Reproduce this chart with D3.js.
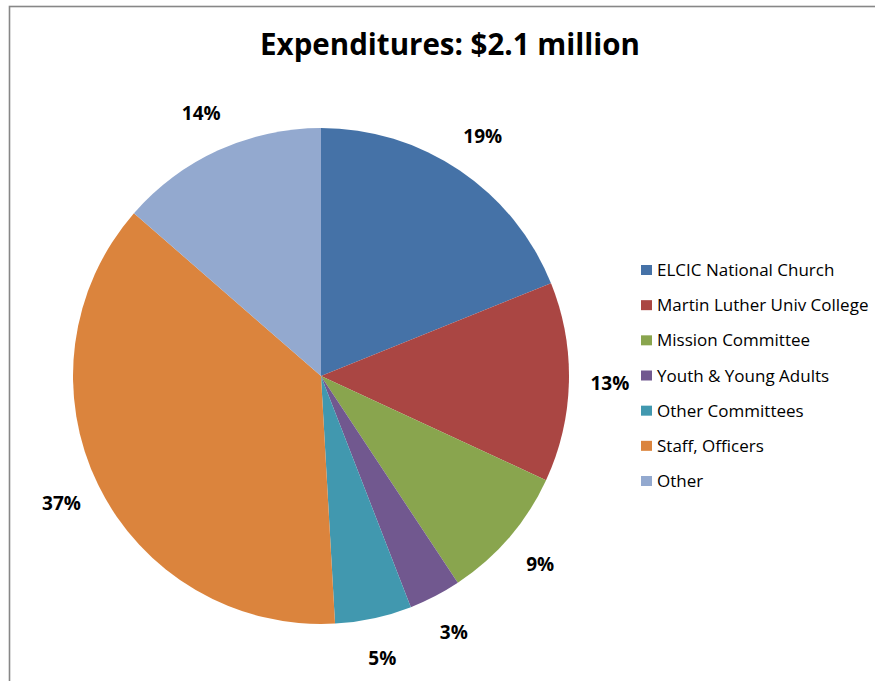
<!DOCTYPE html>
<html>
<head>
<meta charset="utf-8">
<script src="https://cdn.jsdelivr.net/npm/d3@7"></script>
<style>
  body { margin: 0; background: #fff; }
  svg { display: block; }
</style>
</head>
<body>
<div id="chart"></div>
<script>
const WIDTH = 875;
const HEIGHT = 681;

const TITLE = "Expenditures: $2.1 million";

// categories and shares (percent)
const categories = [
    "ELCIC National Church",
    "Martin Luther Univ College",
    "Mission Committee",
    "Youth & Young Adults",
    "Other Committees",
    "Staff, Officers",
    "Other"
];
const shares = [18.9, 13.0, 8.8, 3.4, 5.0, 37.3, 13.6];
const colors = ["#4572A7", "#AA4643", "#89A54E", "#71588F", "#4198AF", "#DB843D", "#93A9CF"];

const CX = 321, CY = 376, RADIUS = 248;
const LABEL_RADIUS = 289;

var svg = d3.select("#chart")
    .append("svg")
    .attr("width", WIDTH)
    .attr("height", HEIGHT);

// chart area border (runs off the right and bottom edges)
svg.append("rect")
    .attr("x", 9.5)
    .attr("y", 6.5)
    .attr("width", WIDTH + 20)
    .attr("height", HEIGHT + 20)
    .attr("fill", "none")
    .attr("stroke", "#878787")
    .attr("stroke-width", 1.6);

svg.append("text")
    .attr("x", 450)
    .attr("y", 55)
    .attr("text-anchor", "middle")
    .attr("font-family", "'Open Sans', sans-serif")
    .attr("font-weight", "bold")
    .attr("font-size", 29.5)
    .attr("fill", "#000")
    .text(TITLE);

var data = categories.map((c, i) => ({ name: c, value: shares[i], color: colors[i] }));

var pie = d3.pie()
    .sort(null)
    .value(d => d.value);

var arc = d3.arc().innerRadius(0).outerRadius(RADIUS);
var labelArc = d3.arc().innerRadius(LABEL_RADIUS).outerRadius(LABEL_RADIUS);

var g = svg.append("g")
    .attr("transform", "translate(" + CX + "," + CY + ")");

var arcs = pie(data);

g.selectAll("path")
    .data(arcs)
    .enter()
    .append("path")
    .attr("d", arc)
    .attr("fill", d => d.data.color);

var fmt = d3.format(".0f");

g.selectAll("text.pct")
    .data(arcs)
    .enter()
    .append("text")
    .attr("class", "pct")
    .attr("transform", d => "translate(" + labelArc.centroid(d) + ")")
    .attr("text-anchor", "middle")
    .attr("dy", "0.35em")
    .attr("font-family", "'Open Sans', sans-serif")
    .attr("font-weight", "bold")
    .attr("font-size", 19)
    .attr("fill", "#000")
    .text(d => fmt(d.data.value) + "%");

// legend
var legendY = d3.scalePoint()
    .domain(categories)
    .range([270, 481]);

var legend = svg.append("g");

var items = legend.selectAll("g")
    .data(data)
    .enter()
    .append("g")
    .attr("transform", d => "translate(641," + legendY(d.name) + ")");

items.append("rect")
    .attr("x", 0)
    .attr("y", -5)
    .attr("width", 11)
    .attr("height", 10)
    .attr("fill", d => d.color);

items.append("text")
    .attr("x", 16)
    .attr("dy", "0.36em")
    .attr("font-family", "'Open Sans', sans-serif")
    .attr("font-size", 17)
    .attr("fill", "#000")
    .text(d => d.name);
</script>
</body>
</html>
